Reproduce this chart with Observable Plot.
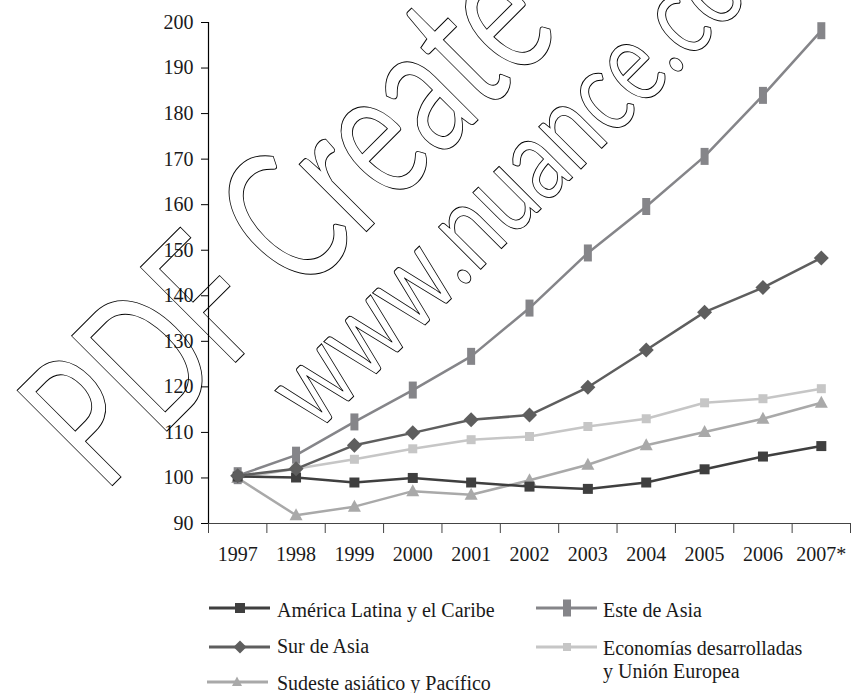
<!DOCTYPE html>
<html>
<head>
<meta charset="utf-8">
<script src="https://cdn.jsdelivr.net/npm/d3@7"></script>
<script src="https://cdn.jsdelivr.net/npm/@observablehq/plot@0.6"></script>
<style>
  html, body { margin: 0; padding: 0; background: #fff; }
  #chart svg { display: block; }
</style>
</head>
<body>
<div id="chart"></div>
<script>
// ---- data ----
const years = ["1997", "1998", "1999", "2000", "2001", "2002", "2003", "2004", "2005", "2006", "2007*"];
const yTicks = [90, 100, 110, 120, 130, 140, 150, 160, 170, 180, 190, 200];

const americaLatina = [100.3, 100.1, 99.0, 100.0, 99.0, 98.1, 97.6, 99.0, 101.9, 104.7, 107.0];
const esteAsia      = [100.5, 105.0, 112.3, 119.3, 126.7, 137.3, 149.4, 159.6, 170.6, 184.0, 198.2];
const surAsia       = [100.5, 102.0, 107.2, 109.9, 112.8, 113.8, 119.9, 128.1, 136.4, 141.8, 148.3];
const economias     = [100.0, 102.0, 104.1, 106.4, 108.4, 109.1, 111.3, 113.0, 116.5, 117.4, 119.6];
const sudeste       = [100.0, 91.8, 93.7, 97.1, 96.3, 99.5, 102.9, 107.2, 110.1, 113.0, 116.5];

const seriesNames = [
  "América Latina y el Caribe",
  "Este de Asia",
  "Sur de Asia",
  "Economías desarrolladas y Unión Europea",
  "Sudeste asiático y Pacífico"
];

// ---- styles ----
const colors = {
  america: "#3f3f3f",
  este: "#858589",
  sur: "#5e5e5e",
  econ: "#c6c6c6",
  sudeste: "#a9a9a9"
};
const symSquare = {draw(ctx) { ctx.rect(-5, -5, 10, 10); }};
const symSquareSmall = {draw(ctx) { ctx.rect(-4.5, -4.5, 9, 9); }};
const symTall = {draw(ctx) { ctx.rect(-4, -8.5, 8, 17); }};
const symDiamond = {draw(ctx) { const r = 7.5; ctx.moveTo(0, -r); ctx.lineTo(r, 0); ctx.lineTo(0, r); ctx.lineTo(-r, 0); ctx.closePath(); }};
const symTriangle = {draw(ctx) { ctx.moveTo(0, -7); ctx.lineTo(6.5, 5); ctx.lineTo(-6.5, 5); ctx.closePath(); }};

const rowsOf = (vals) => vals.map((v, i) => ({i, v}));

const layers = [
  {vals: economias, color: colors.econ, sym: symSquareSmall},
  {vals: sudeste, color: colors.sudeste, sym: symTriangle},
  {vals: esteAsia, color: colors.este, sym: symTall},
  {vals: americaLatina, color: colors.america, sym: symSquare},
  {vals: surAsia, color: colors.sur, sym: symDiamond}
];

const marks = [];
for (const L of layers) {
  const rows = rowsOf(L.vals);
  marks.push(Plot.line(rows, {x: "i", y: "v", stroke: L.color, strokeWidth: 2.5}));
  marks.push(Plot.dot(rows, {x: "i", y: "v", symbol: L.sym, fill: L.color, r: 5, stroke: "none"}));
}

const boundaries = d3.range(-0.5, years.length, 1);

const plot = Plot.plot({
  width: 851,
  height: 575,
  marginTop: 22,
  marginBottom: 52,
  marginLeft: 208,
  marginRight: 1,
  style: {fontFamily: "'Liberation Serif', 'DejaVu Serif', serif", fontSize: "20px", color: "#1a1a1a", background: "#fff"},
  x: {type: "linear", domain: [-0.5, years.length - 0.5], label: null},
  y: {domain: [90, 200], label: null},
  marks: [
    Plot.ruleX([-0.5], {stroke: "#000", strokeWidth: 1.2}),
    Plot.ruleY([90], {stroke: "#444", strokeWidth: 1.2}),
    Plot.axisY(yTicks, {tickSize: 7, tickPadding: 8, stroke: "#000", label: null, fontSize: 20}),
    Plot.axisX(boundaries, {tickSize: 10, stroke: "#444", tickFormat: () => "", label: null}),
    Plot.axisX(d3.range(years.length), {tickSize: 0, tickPadding: 23, tickFormat: (i) => years[i], label: null, fontSize: 20}),
    ...marks
  ]
});

// watermark (outlined text)
const svgSel = d3.select(plot);
const wm = svgSel.append("g").attr("fill", "none").attr("stroke", "#000").attr("stroke-width", 1)
  .attr("text-anchor", "start")
  .attr("font-family", "Lato, 'Open Sans', 'DejaVu Sans', sans-serif");
wm.append("text").attr("transform", "translate(104,494) rotate(-45)")
  .attr("font-size", 188).attr("textLength", 650).attr("lengthAdjust", "spacingAndGlyphs")
  .text("PDF Create");
wm.append("text").attr("transform", "translate(316,434) rotate(-45)")
  .attr("font-size", 118).attr("textLength", 690).attr("lengthAdjust", "spacingAndGlyphs")
  .text("www.nuance.com");

document.getElementById("chart").appendChild(plot);

// ---- legend ----
const legendItems = [
  {name: seriesNames[0], color: colors.america, sym: symSquare, x1: 209, x2: 270, mx: 240, ly: 33, tx: 277, lines: [[seriesNames[0], 42]]},
  {name: seriesNames[2], color: colors.sur, sym: {draw(ctx){const r=6.5;ctx.moveTo(0,-r);ctx.lineTo(r,0);ctx.lineTo(0,r);ctx.lineTo(-r,0);ctx.closePath();}}, x1: 209, x2: 270, mx: 240, ly: 72, tx: 277, lines: [[seriesNames[2], 78]]},
  {name: seriesNames[4], color: colors.sudeste, sym: {draw(ctx){ctx.moveTo(0,-5.5);ctx.lineTo(5,4);ctx.lineTo(-5,4);ctx.closePath();}}, x1: 207, x2: 268, mx: 237, ly: 107, tx: 277, lines: [[seriesNames[4], 115]]},
  {name: seriesNames[1], color: colors.este, sym: symTall, x1: 536, x2: 597, mx: 567, ly: 33, tx: 603, lines: [[seriesNames[1], 42]]},
  {name: seriesNames[3], color: colors.econ, sym: {draw(ctx){ctx.rect(-4,-4,8,8);}}, x1: 536, x2: 597, mx: 567, ly: 72, tx: 603, lines: [["Economías desarrolladas", 80], ["y Unión Europea", 103]]}
];

const legend = d3.create("svg").attr("width", 851).attr("height", 118)
  .style("display", "block").style("background", "#fff")
  .attr("font-family", "'Liberation Serif', 'DejaVu Serif', serif").attr("font-size", 20).attr("fill", "#1a1a1a");
for (const it of legendItems) {
  legend.append("line").attr("x1", it.x1).attr("x2", it.x2).attr("y1", it.ly).attr("y2", it.ly)
    .attr("stroke", it.color).attr("stroke-width", 3);
  const p = d3.path(); it.sym.draw(p);
  legend.append("path").attr("d", p.toString()).attr("transform", `translate(${it.mx},${it.ly})`).attr("fill", it.color);
  for (const [t, y] of it.lines) {
    legend.append("text").attr("x", it.tx).attr("y", y).text(t);
  }
}
document.getElementById("chart").appendChild(legend.node());
</script>
</body>
</html>
